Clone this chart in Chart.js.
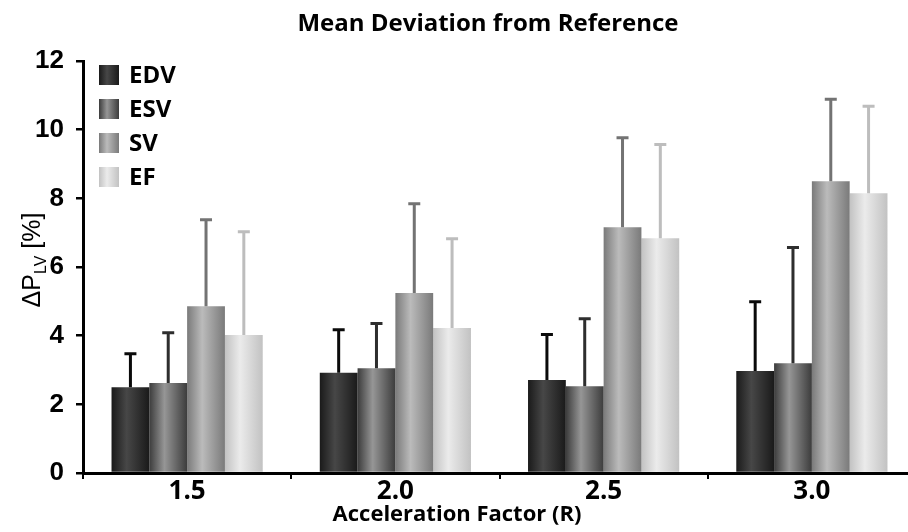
<!DOCTYPE html>
<html>
<head>
<meta charset="utf-8">
<script src="https://cdn.jsdelivr.net/npm/chart.js@4"></script>
<style>
html,body{margin:0;padding:0;background:#fff;overflow:hidden;}
#wrap{width:920px;height:532px;position:relative;}
</style>
</head>
<body>
<div id="wrap"><canvas id="c" width="920" height="532"></canvas></div>
<script>
const categories = ['1.5', '2.0', '2.5', '3.0'];
const seriesNames = ['EDV', 'ESV', 'SV', 'EF'];
const edvMean = [2.50, 2.92, 2.71, 2.97];
const esvMean = [2.62, 3.05, 2.53, 3.20];
const svMean  = [4.86, 5.24, 7.16, 8.50];
const efMean  = [4.02, 4.22, 6.84, 8.15];
const edvSD = [0.99, 1.27, 1.34, 2.03];
const esvSD = [1.48, 1.32, 1.98, 3.38];
const svSD  = [2.53, 2.62, 2.62, 2.40];
const efSD  = [3.02, 2.62, 2.74, 2.55];
const yTicks = [0, 2, 4, 6, 8, 10, 12];

const edgeColors  = ['#1a1a1a', '#3c3c3c', '#7a7a7a', '#c2c2c2'];
const lightColors = ['#474747', '#969696', '#bbbbbb', '#ebebeb'];
const errColors   = ['#0a0a0a', '#2e2e2e', '#737373', '#bdbdbd'];

const means = [edvMean, esvMean, svMean, efMean];
const sds = [edvSD, esvSD, svSD, efSD];

function makeGrad(ctx, x0, x1, i) {
  const g = ctx.createLinearGradient(x0, 0, x1, 0);
  g.addColorStop(0, edgeColors[i]);
  g.addColorStop(0.4, lightColors[i]);
  g.addColorStop(1, edgeColors[i]);
  return g;
}

const gradientBars = {
  id: 'gradientBars',
  beforeDatasetsDraw(chart) {
    const ctx = chart.ctx;
    chart.data.datasets.forEach((ds, i) => {
      const meta = chart.getDatasetMeta(i);
      meta.data.forEach(el => {
        const x0 = el.x - el.width / 2, x1 = el.x + el.width / 2;
        el.options = Object.assign({}, el.options, {backgroundColor: makeGrad(ctx, x0, x1, i)});
      });
    });
  }
};

const errorBars = {
  id: 'errorBars',
  afterDatasetsDraw(chart) {
    const ctx = chart.ctx;
    const ys = chart.scales.y;
    ctx.save();
    chart.data.datasets.forEach((ds, i) => {
      const meta = chart.getDatasetMeta(i);
      meta.data.forEach((el, j) => {
        const top = ys.getPixelForValue(ds.data[j] + ds.sd[j]);
        ctx.strokeStyle = ds.errColor;
        ctx.lineWidth = 3;
        ctx.lineCap = 'butt';
        ctx.beginPath();
        ctx.moveTo(el.x, el.y);
        ctx.lineTo(el.x, top);
        ctx.moveTo(el.x - 6, top + 0.5);
        ctx.lineTo(el.x + 6, top + 0.5);
        ctx.stroke();
      });
    });
    ctx.restore();
  }
};

const labelsPlugin = {
  id: 'labelsPlugin',
  afterDraw(chart) {
    const ctx = chart.ctx;
    ctx.save();
    ctx.fillStyle = '#000';
    // Title
    ctx.font = 'bold 24px "Open Sans"';
    ctx.textAlign = 'center';
    ctx.textBaseline = 'middle';
    ctx.fillText('Mean Deviation from Reference', 488, 24);
    // X axis title
    ctx.font = 'bold 22px "Open Sans"';
    ctx.fillText('Acceleration Factor (R)', 457, 515);
    // Y axis title
    ctx.translate(31, 260);
    ctx.rotate(-Math.PI / 2);
    const big = '25px "Liberation Sans"', small = '16px "Liberation Sans"';
    ctx.font = big; const w1 = ctx.measureText('\u0394P').width;
    ctx.font = small; const w2 = ctx.measureText('LV').width;
    ctx.font = big; const w3 = ctx.measureText(' [%]').width;
    let x = -(w1 + w2 + w3) / 2;
    ctx.textAlign = 'left';
    ctx.textBaseline = 'alphabetic';
    ctx.font = big; ctx.fillText('\u0394P', x, 9); x += w1;
    ctx.font = small; ctx.fillText('LV', x, 15); x += w2;
    ctx.font = big; ctx.fillText(' [%]', x, 9);
    ctx.restore();

    // Legend
    ctx.save();
    chart.data.datasets.forEach((ds, i) => {
      const cy = 75 + i * 34;
      ctx.fillStyle = makeGrad(ctx, 99, 119, i);
      ctx.fillRect(99, cy - 10, 20, 20);
      ctx.fillStyle = '#000';
      ctx.font = 'bold 24px "Open Sans"';
      ctx.textAlign = 'left';
      ctx.textBaseline = 'middle';
      ctx.fillText(ds.label, 129, cy + 1);
    });
    ctx.restore();
  }
};

const datasets = seriesNames.map((name, i) => ({
  label: name,
  data: means[i],
  sd: sds[i],
  errColor: errColors[i],
  backgroundColor: edgeColors[i],
  borderWidth: 0,
  categoryPercentage: 0.726,
  barPercentage: 1.0
}));

new Chart(document.getElementById('c'), {
  type: 'bar',
  data: { labels: categories, datasets },
  options: {
    responsive: false,
    animation: false,
    layout: { padding: { top: 61, right: 4, left: 0, bottom: 0 } },
    plugins: { legend: { display: false }, title: { display: false }, tooltip: { enabled: false } },
    scales: {
      x: {
        offset: true,
        grid: { offset: true, drawOnChartArea: false, tickLength: 6, lineWidth: 2, color: '#000' },
        border: { display: true, width: 3, color: '#000' },
        ticks: { color: '#000', font: { family: 'Open Sans', weight: 'bold', size: 26 }, padding: -3 },
        afterFit(s) { s.height = 59; }
      },
      y: {
        min: 0, max: 12,
        afterBuildTicks(s) { s.ticks = yTicks.map(v => ({ value: v })); },
        grid: { drawOnChartArea: false, tickLength: 7, lineWidth: 2.5, color: '#000' },
        border: { display: true, width: 3, color: '#000' },
        ticks: { color: '#000', font: { family: 'Liberation Sans', weight: 'bold', size: 26 }, padding: 12 },
        afterFit(s) { s.width = 83; }
      }
    }
  },
  plugins: [gradientBars, errorBars, labelsPlugin]
});
</script>
</body>
</html>
